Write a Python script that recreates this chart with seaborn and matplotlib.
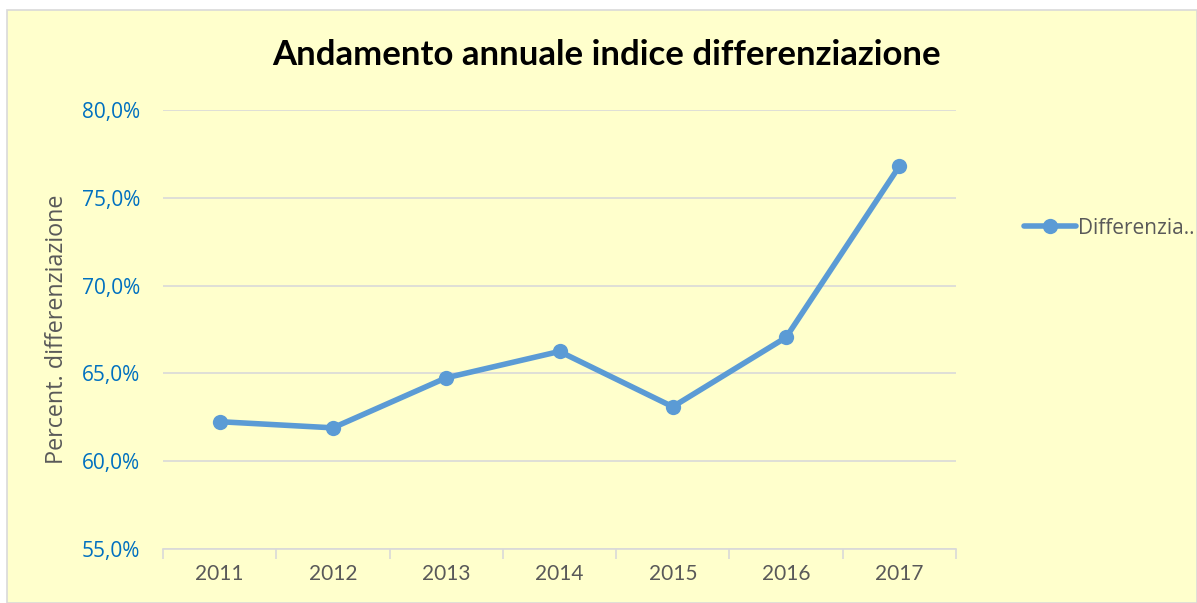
import numpy as np
import pandas as pd
import matplotlib
matplotlib.use("Agg")
import matplotlib.pyplot as plt
from matplotlib.ticker import FuncFormatter, FixedLocator
from matplotlib.patches import Rectangle
import seaborn as sns

anni = ["2011", "2012", "2013", "2014", "2015", "2016", "2017"]
percentuali = [62.25, 61.9, 64.75, 66.25, 63.1, 67.05, 76.8]
serie = "Differenzia.."

df = pd.DataFrame({"pos": np.arange(len(anni)), "valore": percentuali, "serie": serie})

sns.set_theme(style="white")
plt.rcParams["font.family"] = ["Open Sans", "DejaVu Sans"]

bg = "#FFFFCC"
blu = "#5B9BD5"
grigio = "#595959"

fig = plt.figure(figsize=(11.97, 6.03), dpi=100, facecolor="white")
fig.patches.append(Rectangle((7 / 1197, 0), 1 - 7 / 1197, 1 - 10 / 603, transform=fig.transFigure,
                             facecolor=bg, edgecolor="#D9D9D9", linewidth=1.2, zorder=-1))
ax = fig.add_axes([163 / 1197, 1 - 549 / 603, (956 - 163) / 1197, (549 - 110) / 603])
ax.set_facecolor(bg)

sns.lineplot(data=df, x="pos", y="valore", hue="serie", palette=[blu], marker="o",
             markersize=11, markeredgewidth=0, linewidth=4, ax=ax)

ax.set_xlim(-0.5, len(anni) - 0.5)
ax.set_ylim(55, 80)
ax.set_yticks([55, 60, 65, 70, 75, 80])
ax.yaxis.set_major_formatter(FuncFormatter(lambda v, p: f"{v:.1f}%".replace(".", ",")))
ax.set_xticks(np.arange(len(anni)))
ax.set_xticklabels(anni, family=["Lato", "DejaVu Sans"])
ax.xaxis.set_minor_locator(FixedLocator(np.arange(-0.5, len(anni), 1.0)))
ax.tick_params(axis="x", which="major", length=0, labelsize=15, labelcolor=grigio, pad=11)
ax.tick_params(axis="x", which="minor", bottom=True, length=7, width=1.2, color="#D9D9D9", direction="out")
ax.tick_params(axis="y", length=0, labelsize=15, labelcolor="#0070C0", pad=16.5)

ax.yaxis.grid(True, color="#D9D9D9", linewidth=1.2)
ax.xaxis.grid(False)
for s in ["top", "right", "left"]:
    ax.spines[s].set_visible(False)
ax.spines["bottom"].set_color("#D9D9D9")
ax.spines["bottom"].set_linewidth(1.2)

ax.set_xlabel("")
ax.set_ylabel("Percent. differenziazione", fontsize=16.8, color=grigio, labelpad=9)
fig.text(606 / 1197, 1 - 55 / 603, "Andamento annuale indice differenziazione",
         ha="center", va="center", fontsize=25, fontweight="bold", color="black",
         family=["Lato", "DejaVu Sans"])

leg = ax.legend(loc="center left", bbox_to_anchor=(1.075, 0.731), frameon=False,
                fontsize=15, handlelength=2.5, handletextpad=0.1, borderaxespad=0)
for t in leg.get_texts():
    t.set_color(grigio)

fig.savefig("out.png", dpi=100, facecolor=fig.get_facecolor())
